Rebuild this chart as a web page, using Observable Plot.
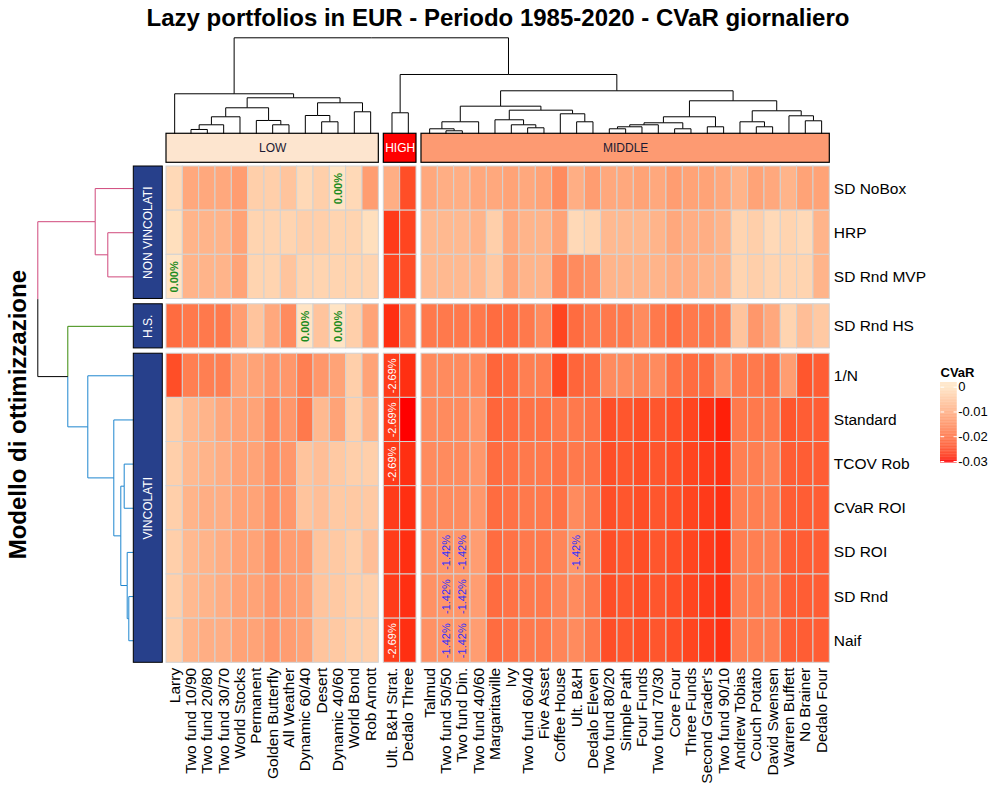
<!DOCTYPE html>
<html><head><meta charset="utf-8">
<script src="https://cdn.jsdelivr.net/npm/d3@7"></script>
<script src="https://cdn.jsdelivr.net/npm/@observablehq/plot@0.6"></script>
<style>
body{margin:0;background:#fff;font-family:"Liberation Sans",Arial,sans-serif;}
#title{height:36px;line-height:36px;text-align:center;font-size:24px;font-weight:bold;width:996px;color:#000;white-space:nowrap;}
#chart{position:relative;width:1000px;height:760px;}
#chart svg{position:absolute;left:0;top:0;}
</style></head><body>
<div id="title">Lazy portfolios in EUR - Periodo 1985-2020 - CVaR giornaliero</div>
<div id="chart"></div>
<script>
// ---------------- DATA ----------------
const colsLow = ["Larry","Two fund 10/90","Two fund 20/80","Two fund 30/70","World Stocks","Permanent","Golden Butterfly","All Weather","Dynamic 60/40","Desert","Dynamic 40/60","World Bond","Rob Arnott"];
const colsHigh = ["Ult. B&H Strat.","Dedalo Three"];
const colsMid = ["Talmud","Two fund 50/50","Two fund Din.","Two fund 40/60","Margaritaville","Ivy","Two fund 60/40","Five Asset","Coffee House","Ult. B&H","Dedalo Eleven","Two fund 80/20","Simple Path","Four Funds","Two fund 70/30","Core Four","Three Funds","Second Grader's","Two fund 90/10","Andrew Tobias","Couch Potato","David Swensen","Warren Buffett","No Brainer","Dedalo Four"];
const colGroupNames = ["LOW","HIGH","MIDDLE"];
const colGroupFills = ["#FDE5CF","#FF0000","#FD9A72"];
const colGroupText = ["#1a1a33","#fff","#1a1a33"];

const rowsNV = ["SD NoBox","HRP","SD Rnd MVP"];
const rowsHS = ["SD Rnd HS"];
const rowsV = ["1/N","Standard","TCOV Rob","CVaR ROI","SD ROI","SD Rnd","Naif"];
const rowGroupNames = ["NON VINCOLATI","H.S.","VINCOLATI"];
const rowGroupColors = ["#D0497C","#3A8B0B","#1E86CF"];

// CVaR values: 13 LOW, 2 HIGH, 25 MIDDLE columns
const vSDNoBox = [-0.002,-0.011,-0.011,-0.011,-0.013,-0.004,-0.004,-0.006,-0.002,-0.004,0.000,-0.002,-0.013,
  -0.010,-0.025,
  -0.011,-0.010,-0.010,-0.011,-0.011,-0.012,-0.011,-0.012,-0.016,-0.010,-0.013,-0.011,-0.011,-0.012,-0.011,-0.013,-0.012,-0.012,-0.011,-0.009,-0.012,-0.011,-0.009,-0.012,-0.012];
const vHRP = [-0.001,-0.009,-0.009,-0.009,-0.012,-0.003,-0.003,-0.003,-0.004,-0.004,-0.003,-0.003,-0.001,
  -0.027,-0.026,
  -0.008,-0.008,-0.008,-0.009,-0.004,-0.011,-0.009,-0.009,-0.012,-0.002,-0.003,-0.008,-0.008,-0.008,-0.009,-0.011,-0.010,-0.010,-0.009,-0.003,-0.004,-0.002,-0.003,-0.002,-0.009];
const vSDRndMVP = [0.000,-0.009,-0.009,-0.009,-0.012,-0.003,-0.003,-0.006,-0.003,-0.003,-0.003,-0.003,-0.003,
  -0.026,-0.025,
  -0.008,-0.008,-0.008,-0.008,-0.005,-0.012,-0.009,-0.009,-0.017,-0.016,-0.015,-0.009,-0.009,-0.009,-0.009,-0.010,-0.010,-0.009,-0.009,-0.003,-0.004,-0.003,-0.003,-0.003,-0.009];
const vSDRndHS = [-0.021,-0.019,-0.019,-0.019,-0.013,-0.006,-0.011,-0.016,0.000,-0.006,0.000,-0.004,-0.012,
  -0.028,-0.020,
  -0.019,-0.019,-0.019,-0.019,-0.021,-0.021,-0.019,-0.016,-0.026,-0.021,-0.019,-0.019,-0.019,-0.016,-0.019,-0.021,-0.019,-0.019,-0.018,-0.006,-0.014,-0.011,-0.003,-0.007,-0.005];
const v1N = [-0.025,-0.018,-0.018,-0.018,-0.012,-0.012,-0.014,-0.014,-0.018,-0.014,-0.012,-0.004,-0.012,
  -0.0269,-0.028,
  -0.016,-0.016,-0.016,-0.016,-0.022,-0.021,-0.018,-0.018,-0.026,-0.022,-0.021,-0.016,-0.016,-0.017,-0.016,-0.020,-0.021,-0.021,-0.016,-0.019,-0.019,-0.020,-0.013,-0.024,-0.023];
const vStandard = [-0.004,-0.008,-0.009,-0.011,-0.012,-0.012,-0.016,-0.014,-0.019,-0.008,-0.012,-0.004,-0.009,
  -0.0269,-0.030,
  -0.016,-0.016,-0.016,-0.014,-0.022,-0.021,-0.020,-0.020,-0.019,-0.019,-0.020,-0.025,-0.024,-0.025,-0.024,-0.025,-0.026,-0.028,-0.029,-0.019,-0.019,-0.019,-0.024,-0.023,-0.023];
const vTCOVRob = [-0.004,-0.008,-0.009,-0.010,-0.012,-0.012,-0.015,-0.014,-0.006,-0.007,-0.005,-0.004,-0.004,
  -0.0269,-0.028,
  -0.016,-0.016,-0.016,-0.014,-0.021,-0.020,-0.019,-0.019,-0.020,-0.019,-0.020,-0.025,-0.024,-0.025,-0.024,-0.025,-0.026,-0.027,-0.028,-0.018,-0.018,-0.017,-0.023,-0.023,-0.023];
const vCVaRROI = [-0.004,-0.009,-0.010,-0.010,-0.012,-0.012,-0.015,-0.014,-0.006,-0.007,-0.005,-0.005,-0.005,
  -0.0269,-0.028,
  -0.016,-0.016,-0.016,-0.014,-0.021,-0.020,-0.019,-0.019,-0.020,-0.016,-0.019,-0.025,-0.024,-0.025,-0.024,-0.025,-0.026,-0.027,-0.028,-0.018,-0.018,-0.018,-0.023,-0.023,-0.023];
const vSDROI = [-0.004,-0.008,-0.009,-0.010,-0.012,-0.012,-0.015,-0.013,-0.013,-0.006,-0.005,-0.004,-0.007,
  -0.0269,-0.028,
  -0.015,-0.0142,-0.0142,-0.013,-0.021,-0.020,-0.019,-0.019,-0.017,-0.0142,-0.019,-0.025,-0.024,-0.025,-0.024,-0.025,-0.026,-0.027,-0.028,-0.018,-0.018,-0.018,-0.023,-0.023,-0.023];
const vSDRnd = [-0.004,-0.008,-0.009,-0.010,-0.012,-0.012,-0.014,-0.013,-0.012,-0.006,-0.005,-0.004,-0.004,
  -0.0269,-0.028,
  -0.015,-0.0142,-0.0142,-0.013,-0.021,-0.020,-0.019,-0.019,-0.017,-0.016,-0.019,-0.025,-0.024,-0.025,-0.024,-0.025,-0.026,-0.027,-0.028,-0.018,-0.018,-0.018,-0.023,-0.023,-0.023];
const vNaif = [-0.004,-0.009,-0.010,-0.010,-0.012,-0.012,-0.014,-0.013,-0.012,-0.006,-0.005,-0.004,-0.004,
  -0.0269,-0.028,
  -0.015,-0.0142,-0.0142,-0.013,-0.021,-0.020,-0.019,-0.019,-0.017,-0.016,-0.019,-0.025,-0.024,-0.025,-0.024,-0.025,-0.026,-0.027,-0.028,-0.018,-0.018,-0.018,-0.023,-0.023,-0.023];

// highlighted cell labels
const labelsZero = [["SD NoBox","Dynamic 40/60"],["SD Rnd MVP","Larry"],["SD Rnd HS","Dynamic 60/40"],["SD Rnd HS","Dynamic 40/60"]];
const labelsHigh = [["1/N","Ult. B&H Strat."],["Standard","Ult. B&H Strat."],["TCOV Rob","Ult. B&H Strat."],["Naif","Ult. B&H Strat."]];
const labelsMid = [["SD ROI","Two fund 50/50"],["SD ROI","Two fund Din."],["SD ROI","Ult. B&H"],["SD Rnd","Two fund 50/50"],["SD Rnd","Two fund Din."],["Naif","Two fund 50/50"],["Naif","Two fund Din."]];

// dendrograms: [height, left, right]
const dendLow = [40, "Larry", [36, [26, [17, [9, [4.3, "Two fund 10/90", "Two fund 20/80"], "Two fund 30/70"], "World Stocks"], [13.3, "Permanent", [9, "Golden Butterfly", "All Weather"]]], [31, [18.3, "Dynamic 60/40", [12, "Desert", "Dynamic 40/60"]], [22, "World Bond", "Rob Arnott"]]]];
const dendHigh = [21, "Ult. B&H Strat.", "Dedalo Three"];
const dendMid = [43,
  [27.6, [12, [5, "Talmud", [3, "Two fund 50/50", "Two fund Din."]], "Two fund 40/60"],
         [23.6, [14, "Margaritaville", [9, "Ivy", [6, "Two fund 60/40", "Five Asset"]]], [20, "Coffee House", [12, "Ult. B&H", "Dedalo Eleven"]]]],
  [33, [17, [11, [9, [7, [5, "Two fund 80/20", "Simple Path"], "Four Funds"], "Two fund 70/30"], [5, "Core Four", "Three Funds"]], [7, "Second Grader's", "Two fund 90/10"]],
       [23, [12, "Andrew Tobias", [7, "Couch Potato", "David Swensen"]], [18, "Warren Buffett", [13, "No Brainer", "Dedalo Four"]]]]];
const dendCols = [96, dendLow, [59.3, dendHigh, dendMid]];
const dendRows = [96, [38.6, "SD NoBox", [26, "HRP", "SD Rnd MVP"]],
  [66, "SD Rnd HS", [46, "1/N", [20, "Standard", [13, [9.6, "TCOV Rob", "CVaR ROI"], [6.6, "SD ROI", [5, "SD Rnd", "Naif"]]]]]]];

const legendTicks = [0, -0.01, -0.02, -0.03];
const legendTickLabels = ["0", "-0.01", "-0.02", "-0.03"];

// ---------------- LAYOUT ----------------
const FONT = '"Liberation Sans", Arial, sans-serif';
const GAPC = 0.306, GAPR = 0.12;
const X0 = 166, X1 = 829.3, Y0 = 130, Y1 = 626.3;   // heatmap body in svg px
const ANN_Y1 = -0.741, ANN_Y2 = -0.084;             // column annotation band (row units)
const DEND_H = 96;
const BAR_W = 29;
const LABEL_FS = 15.5;

const colGroups = [colsLow, colsHigh, colsMid];
const rowGroups = [rowsNV, rowsHS, rowsV];
const allCols = colGroups.flat();
const allRows = rowGroups.flat();
const rowValues = [vSDNoBox, vHRP, vSDRndMVP, vSDRndHS, v1N, vStandard, vTCOVRob, vCVaRROI, vSDROI, vSDRnd, vNaif];

const colX = new Map(); let k = 0;
colGroups.forEach((g, gi) => g.forEach(c => { colX.set(c, k + gi * GAPC); k++; }));
const NC = k;
const rowY = new Map(); let r = 0;
rowGroups.forEach((g, gi) => g.forEach(n => { rowY.set(n, r + gi * GAPR); r++; }));
const NR = r;
const rowGroupOf = new Map();
rowGroups.forEach((g, gi) => g.forEach(n => rowGroupOf.set(n, gi)));

const cells = [];
allRows.forEach((row, ri) => rowValues[ri].forEach((v, ci) => cells.push({row, col: allCols[ci], v})));

const colorScale = {type: "linear", domain: [-0.03, 0], range: ["red", "bisque"], interpolate: "lab", clamp: true};
const xScale = {domain: [0, NC + 2 * GAPC], range: [X0, X1], axis: null};
const yScale = {domain: [0, NR + 2 * GAPR], range: [Y0, Y1], axis: null};
const baseStyle = {background: "transparent", fontFamily: FONT, overflow: "visible"};

function layoutTree(node, leafPos, colorOf, segs) {
  if (typeof node === "string") return {pos: leafPos(node), h: 0, color: colorOf(node)};
  const [h, a, b] = node;
  const A = layoutTree(a, leafPos, colorOf, segs), B = layoutTree(b, leafPos, colorOf, segs);
  const pos = (A.pos + B.pos) / 2;
  for (const C of [A, B]) {
    segs.push({p1: pos, h1: h, p2: C.pos, h2: h, color: C.color});
    segs.push({p1: C.pos, h1: h, p2: C.pos, h2: C.h, color: C.color});
  }
  return {pos, h, color: A.color === B.color ? A.color : "black"};
}

const colSegs = [];
layoutTree(dendCols, c => colX.get(c) + 0.5, () => "black", colSegs);
const rowSegs = [];
layoutTree(dendRows, n => rowY.get(n) + 0.5, n => rowGroupColors[rowGroupOf.get(n)], rowSegs);

const colGroupData = colGroups.map((g, i) => ({name: colGroupNames[i], x1: colX.get(g[0]), x2: colX.get(g[g.length - 1]) + 1, fill: colGroupFills[i], tc: colGroupText[i]}));
const rowGroupData = rowGroups.map((g, i) => ({name: rowGroupNames[i], y1: rowY.get(g[0]), y2: rowY.get(g[g.length - 1]) + 1}));

const cellLabel = (list, txt) => list.map(([row, col]) => ({row, col, text: txt}));
const lz = cellLabel(labelsZero, "0.00%"), lh = cellLabel(labelsHigh, "-2.69%"), lm = cellLabel(labelsMid, "-1.42%");
const lblOpts = (fill, fontWeight) => ({x: d => colX.get(d.col) + 0.5, y: d => rowY.get(d.row) + 0.5, text: "text", rotate: -90, fill, fontSize: 11, fontWeight});

const chart = document.getElementById("chart");

// Heatmap
chart.append(Plot.plot({
  width: 1000, height: 760, margin: 0, style: baseStyle,
  x: xScale, y: yScale, color: colorScale,
  marks: [
    Plot.rect(cells, {x1: d => colX.get(d.col), x2: d => colX.get(d.col) + 1, y1: d => rowY.get(d.row), y2: d => rowY.get(d.row) + 1, fill: "v", stroke: "#D3D3D3", strokeWidth: 1}),
    Plot.text(lz, lblOpts("#1E8C1E", "bold")),
    Plot.text(lh, lblOpts("white", "normal")),
    Plot.text(lm, lblOpts("#2F2FFF", "normal")),
    Plot.text(allRows, {x: NC + 2 * GAPC, y: d => rowY.get(d) + 0.5, text: d => d, dx: 4, textAnchor: "start", fontSize: LABEL_FS, fill: "black"}),
    Plot.text(allCols, {x: d => colX.get(d) + 0.5, y: NR + 2 * GAPR, dy: 5, text: d => d, rotate: -90, textAnchor: "end", fontSize: LABEL_FS, fill: "black"}),
    Plot.rect(colGroupData, {x1: "x1", x2: "x2", y1: ANN_Y1, y2: ANN_Y2, fill: d => d.fill, stroke: "black", strokeWidth: 1.2}),
    Plot.text(colGroupData, {x: d => (d.x1 + d.x2) / 2, y: (ANN_Y1 + ANN_Y2) / 2, text: "name", fill: d => d.tc, fontSize: 12})
  ]
}));

// Column dendrogram
chart.append(Plot.plot({
  width: 1000, height: 760, margin: 0, style: baseStyle,
  x: xScale, y: {domain: [0, DEND_H], range: [Y0 + ANN_Y1 * (Y1 - Y0) / (NR + 2 * GAPR), 1.3], axis: null},
  marks: [Plot.link(colSegs, {x1: "p1", x2: "p2", y1: "h1", y2: "h2", stroke: "black", strokeWidth: 1})]
}));

// Row dendrogram, row group bars, axis title
chart.append(Plot.plot({
  width: 1000, height: 760, margin: 0, style: baseStyle,
  x: {domain: [0, DEND_H], range: [133.3, 37.3], axis: null}, y: yScale, color: {type: "identity"},
  marks: [
    Plot.link(rowSegs, {y1: "p1", y2: "p2", x1: "h1", x2: "h2", stroke: "color", strokeWidth: 1}),
    Plot.rect(rowGroupData, {y1: "y1", y2: "y2", x1: 0, x2: -BAR_W, fill: "#27408B", stroke: "black", strokeWidth: 1}),
    Plot.text(rowGroupData, {x: -BAR_W / 2, y: d => (d.y1 + d.y2) / 2, text: "name", rotate: -90, fill: "white", fontSize: 12}),
    Plot.text(["Modello di ottimizzazione"], {x: 115.3, y: (NR + 2 * GAPR) / 2, text: d => d, rotate: -90, fontSize: 24, fontWeight: "bold", fill: "black"})
  ]
}));

// Legend
const grad = d3.range(-0.0306, 0.0018, 0.0003);
chart.append(Plot.plot({
  width: 1000, height: 760, margin: 0, style: baseStyle,
  x: {domain: [0, 1], range: [940, 956.7], axis: null},
  y: {domain: [-0.03, 0], range: [425, 350.7], axis: null},
  color: colorScale,
  marks: [
    Plot.rect(grad, {x1: 0, x2: 1, y1: d => d, y2: d => d + 0.00034, fill: d => d}),
    Plot.link(legendTicks, {x1: 0, x2: 0.22, y1: d => d, y2: d => d, stroke: "white", strokeWidth: 1}),
    Plot.link(legendTicks, {x1: 0.78, x2: 1, y1: d => d, y2: d => d, stroke: "white", strokeWidth: 1}),
    Plot.text(legendTicks, {x: 1, y: d => d, dx: 1, text: (d, i) => legendTickLabels[i], textAnchor: "start", fontSize: 13, fill: "black"}),
    Plot.text(["CVaR"], {x: 0, y: 0, dy: -14.4, text: d => d, textAnchor: "start", fontSize: 13, fontWeight: "bold", fill: "black"})
  ]
}));
</script></body></html>
